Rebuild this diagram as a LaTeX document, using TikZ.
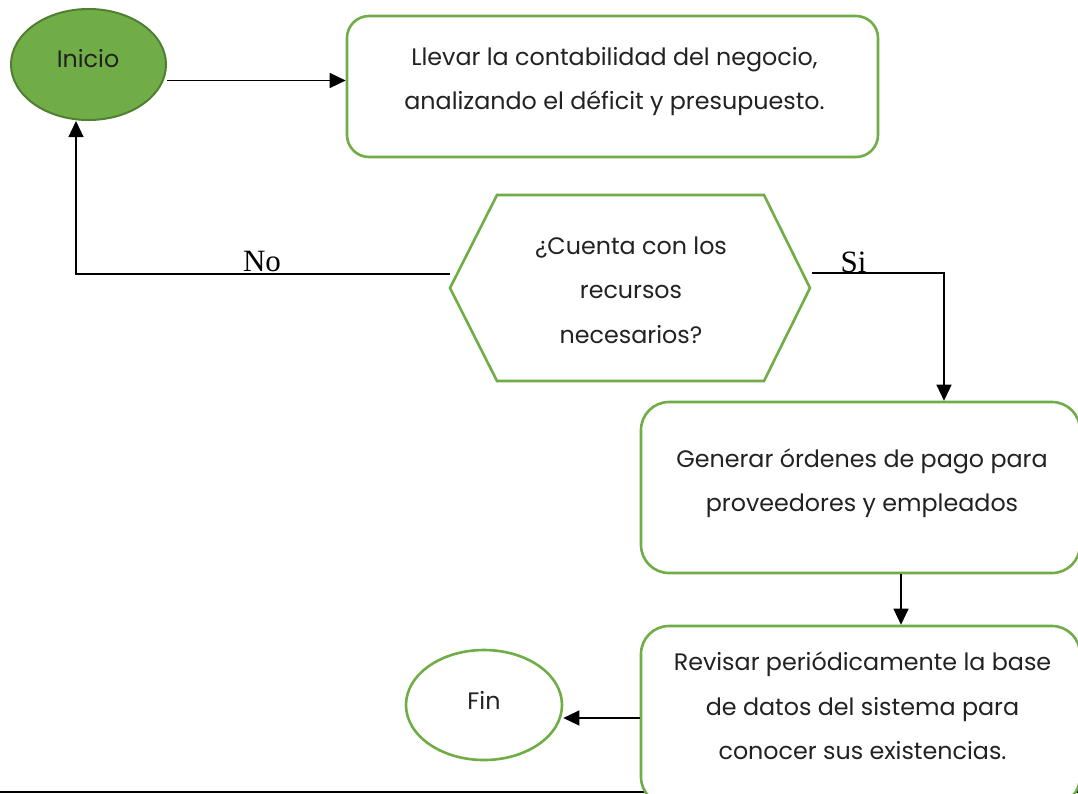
\documentclass[tikz,border=0pt]{standalone}
\usepackage{fontspec}
\setmainfont{Poppins}
\newfontfamily\timesf{Liberation Serif}
\usetikzlibrary{arrows.meta,shapes.geometric}
\definecolor{gline}{HTML}{70AD47}
\definecolor{gdark}{HTML}{507E32}
\definecolor{txtc}{HTML}{222222}
\tikzset{
  box/.style={draw=gline, line width=2.6pt, fill=white, rounded corners=28pt, inner sep=0pt},
  txt/.style={text=txtc, align=center, font=\fontsize{23.8}{44.5}\selectfont, inner sep=0pt},
  arr/.style={draw=black, line width=1.3pt, -{Triangle[length=16pt,width=15pt]}},
  lbl/.style={font=\timesf\fontsize{31}{31}\selectfont, inner sep=0pt, anchor=base},
}
\begin{document}
\begin{tikzpicture}[x=1pt,y=-1pt]
\useasboundingbox (0,0) rectangle (1078,793);
\clip (0,0) rectangle (1078,793);
\fill[white] (0,0) rectangle (1078,793);

% bottom rule
\draw[black, line width=1.6pt] (0,792) -- (1078,792);

% start
\node[ellipse, draw=gdark, fill=gline, line width=2pt, minimum width=155pt, minimum height=111pt, inner sep=0pt] (inicio) at (88.5,64.5) {};
\node[txt] (inicioT) at (88,59) {Inicio};

% box 1
\node[box, minimum width=531pt, minimum height=141pt, rounded corners=22pt] (box1) at (612.5,86.5) {};
\node[txt] (box1T) at (614.5,81.5) {Llevar la contabilidad del negocio,\\analizando el déficit y presupuesto.};

% decision hexagon
\draw[gline, line width=2.6pt, fill=white] (450,288) -- (497,195) -- (764,195) -- (810,288) -- (764,381) -- (497,381) -- cycle;
\node[txt] (dec) at (631,290) {¿Cuenta con los\\recursos\\necesarios?};
\coordinate (hexL) at (450,274);
\coordinate (hexR) at (812,273);

% box 2
\node[box, minimum width=439pt, minimum height=171pt] (box2) at (860.5,487.5) {};
\node[txt] (box2T) at (862,483) {Generar órdenes de pago para\\proveedores y empleados};

% box 3
\node[box, minimum width=439pt, minimum height=179pt] (box3) at (860.5,715.5) {};
\node[txt] (box3T) at (862.5,706) {Revisar periódicamente la base\\de datos del sistema para\\conocer sus existencias.};

% end
\node[ellipse, draw=gline, fill=white, line width=2.6pt, minimum width=156pt, minimum height=110pt, inner sep=0pt] (fin) at (484,705) {};
\node[txt] (finT) at (484,700) {Fin};

% connectors
\draw[arr] ([yshift=-16pt]inicio.east) -- ([yshift=-16pt]inicio.east -| box1.west);
\draw[arr] (hexL) -| ([xshift=-12.5pt]inicio.south);
\draw[arr] (hexR) -| ([xshift=83.5pt]box2.north);
\draw[arr] ([xshift=40.5pt]box2.south) -- ([xshift=40.5pt]box3.north);
\draw[arr] ([yshift=-2.5pt]box3.west) -- ([yshift=-2.5pt]box3.west -| fin.east);

% labels
\node[lbl] (noL) at (262,271) {No};
\node[lbl] (siL) at (853.5,272) {Si};
\end{tikzpicture}
\end{document}
